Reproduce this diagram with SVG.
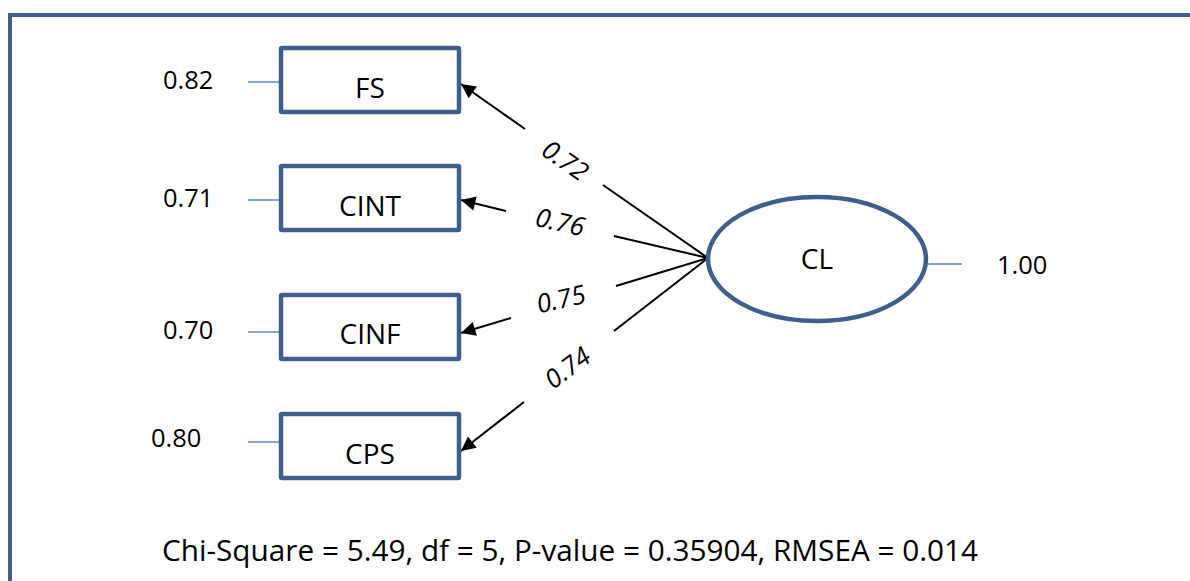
<svg xmlns="http://www.w3.org/2000/svg" width="1190" height="581" viewBox="0 0 1190 581">
<style>
text{font-family:"Open Sans","DejaVu Sans",sans-serif;fill:#000}
.box{fill:#fff;stroke:#3e5f8c;stroke-width:4.5}
.err{stroke:#5a8ac6;stroke-width:1.5}
.lbl{font-size:28px;text-anchor:middle}
.num{font-size:25.5px}
.edge{stroke:#000;stroke-width:2;fill:none}
.el{font-size:26px;font-style:italic;text-anchor:middle}
</style>
<defs>
<marker id="ah" viewBox="0 0 10 10" refX="10" refY="5" markerWidth="8" markerHeight="8" markerUnits="userSpaceOnUse" orient="auto" style="overflow:visible">
<path d="M0,0 L10,5 L0,10 z" fill="#000" transform="scale(1.8)" transform-origin="10 5"/>
</marker>
</defs>
<rect x="10" y="15" width="1200" height="600" fill="none" stroke="#3e5f8c" stroke-width="4"/>
<g id="connectors">
<line class="edge" x1="708" y1="258" x2="603" y2="185"/>
<line class="edge" x1="525" y1="129" x2="461" y2="84" marker-end="url(#ah)"/>
<line class="edge" x1="708" y1="258" x2="614" y2="236"/>
<line class="edge" x1="506" y1="211" x2="461" y2="200" marker-end="url(#ah)"/>
<line class="edge" x1="708" y1="258" x2="616" y2="286"/>
<line class="edge" x1="511" y1="318" x2="461" y2="333" marker-end="url(#ah)"/>
<line class="edge" x1="708" y1="258" x2="614" y2="331"/>
<line class="edge" x1="524" y1="402" x2="461" y2="451" marker-end="url(#ah)"/>
<text class="el" transform="translate(560,168) rotate(35)">0.72</text>
<text class="el" transform="translate(558,231) rotate(13)">0.76</text>
<text class="el" transform="translate(563,308) rotate(-13)">0.75</text>
<text class="el" transform="translate(573,375) rotate(-37)">0.74</text>
</g>
<g id="FS">
<line class="err" x1="248" y1="82" x2="280" y2="82"/>
<text class="num" x="163" y="89">0.82</text>
<rect class="box" x="281" y="48" width="178" height="64" rx="1"/>
<text class="lbl" x="370" y="98">FS</text>
</g>
<g id="CINT">
<line class="err" x1="248" y1="200" x2="280" y2="200"/>
<text class="num" x="163" y="207">0.71</text>
<rect class="box" x="281" y="166" width="178" height="64" rx="1"/>
<text class="lbl" x="370" y="216">CINT</text>
</g>
<g id="CINF">
<line class="err" x1="248" y1="332" x2="280" y2="332"/>
<text class="num" x="163" y="339">0.70</text>
<rect class="box" x="281" y="295" width="178" height="64" rx="1"/>
<text class="lbl" x="370" y="344">CINF</text>
</g>
<g id="CPS">
<line class="err" x1="248" y1="442" x2="280" y2="442"/>
<text class="num" x="151" y="447">0.80</text>
<rect class="box" x="281" y="414" width="178" height="64" rx="1"/>
<text class="lbl" x="370" y="464">CPS</text>
</g>
<g id="CL">
<ellipse cx="817" cy="259" rx="109" ry="62" fill="#fff" stroke="#3e5f8c" stroke-width="4.5"/>
<text class="lbl" x="817" y="269">CL</text>
<line class="err" x1="928" y1="264" x2="962" y2="264"/>
<text class="num" x="997" y="274">1.00</text>
</g>
<text x="162" y="561" textLength="816" lengthAdjust="spacingAndGlyphs" style="font-size:29px">Chi-Square = 5.49, df = 5, P-value = 0.35904, RMSEA = 0.014</text>
</svg>
